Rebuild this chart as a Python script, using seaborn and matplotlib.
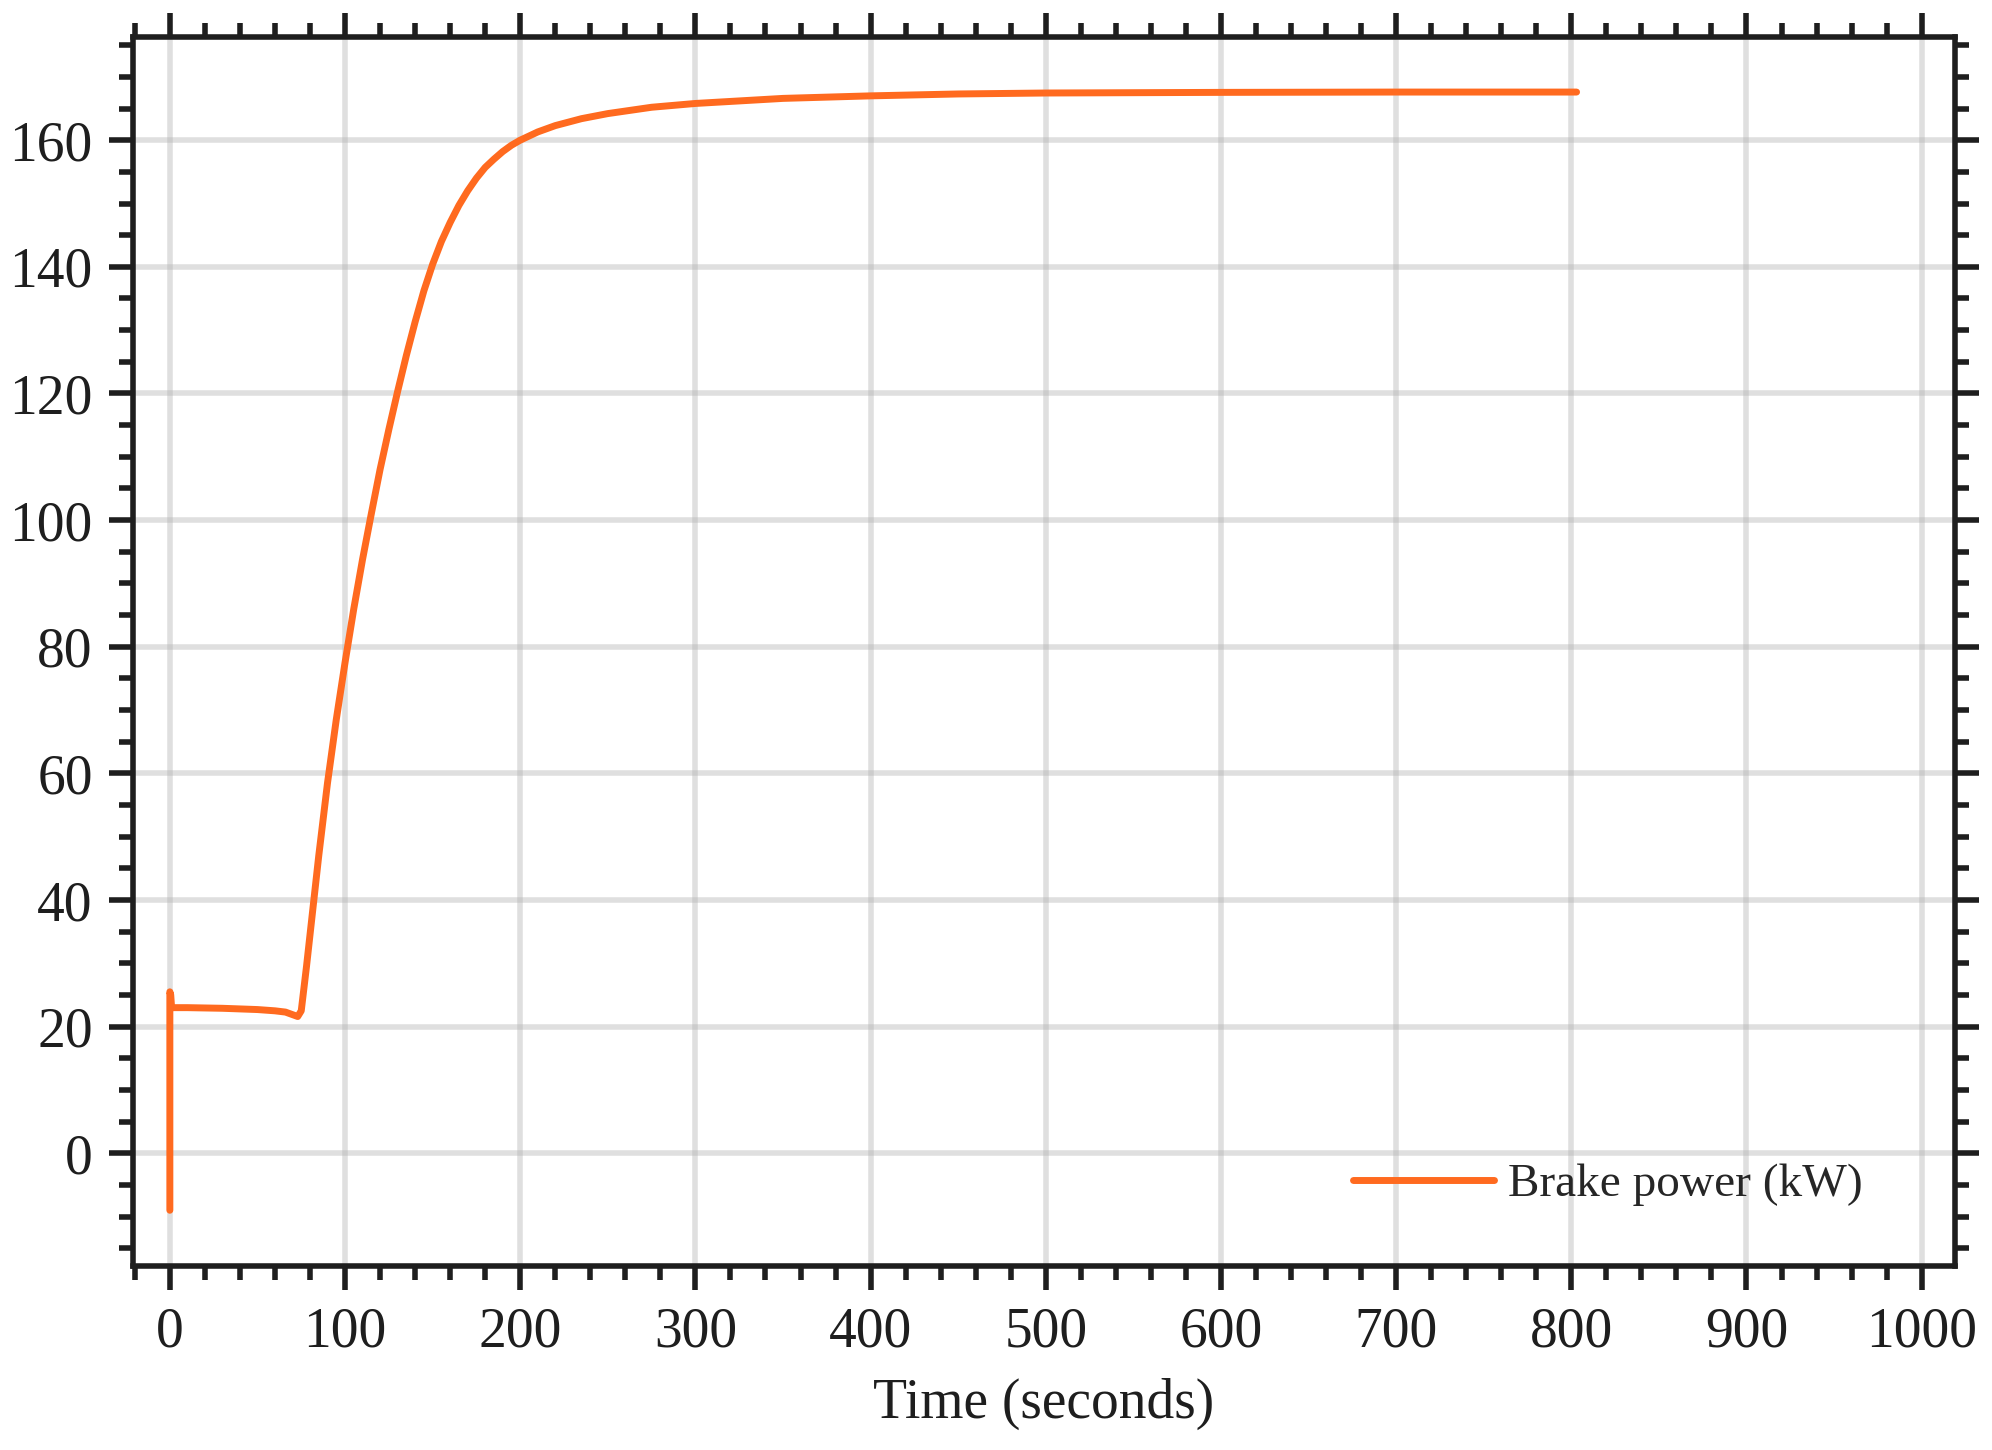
import numpy as np
import pandas as pd
import matplotlib.pyplot as plt
import seaborn as sns
from matplotlib.ticker import MultipleLocator

# values
time_s = [0, 0, 0.5, 1, 10, 30, 50, 60, 66, 70, 73, 75, 78, 80, 85, 90, 95,
          100, 105, 110, 115, 120, 125, 130, 135, 140, 145, 150, 155, 160,
          165, 170, 175, 180, 185, 190, 195, 200, 210, 220, 235, 250, 275,
          300, 350, 400, 450, 500, 600, 700, 803]
brake_kw = [-9, 25.5, 25, 23.0, 23.0, 22.9, 22.7, 22.5, 22.3, 21.9, 21.6, 22.5,
            29.5, 34.5, 47, 58.5, 68.5, 77.5, 86, 93.8, 101, 108, 114.3, 120.3,
            126, 131.3, 136.2, 140.4, 144, 147, 149.7, 152, 154, 155.7, 157,
            158.2, 159.2, 160, 161.3, 162.3, 163.4, 164.2, 165.2, 165.8, 166.6,
            167.0, 167.3, 167.45, 167.55, 167.6, 167.6]
x_ticks = list(range(0, 1001, 100))
y_ticks = list(range(0, 161, 20))

df = pd.DataFrame({'t': time_s, 'p': brake_kw})

sns.set_style('white')
plt.rcParams['font.family'] = ['Liberation Serif', 'DejaVu Serif']

fig, ax = plt.subplots(figsize=(9.96, 7.25), dpi=200)
fig.subplots_adjust(left=0.0668, right=0.9814, top=0.9745, bottom=0.1269)

sns.lineplot(data=df, x='t', y='p', estimator=None, sort=False,
             color='#ff6a1f', linewidth=2.5, label='Brake power (kW)', ax=ax)

ax.set_xlim(-21, 1019)
ax.set_ylim(-17.8, 176.3)
ax.set_xticks(x_ticks)
ax.set_yticks(y_ticks)
ax.xaxis.set_minor_locator(MultipleLocator(20))
ax.yaxis.set_minor_locator(MultipleLocator(5))
ax.grid(True, which='major', color='#b0b0b0', alpha=0.4, linewidth=2)

for s in ax.spines.values():
    s.set_visible(True)
    s.set_color('#1e1e1e')
    s.set_linewidth(2.0)

ax.tick_params(which='both', direction='out', top=True, right=True,
               bottom=True, left=True, color='#1e1e1e', width=2.0,
               labelsize=20, labelcolor='#1e1e1e')
ax.tick_params(which='major', length=8.5, pad=6)
ax.tick_params(which='minor', length=5)

ax.set_xlabel('Time (seconds)', fontsize=20, color='#1e1e1e', labelpad=7)
ax.set_ylabel('')

ax.legend(loc='center right', bbox_to_anchor=(0.96, 0.066), frameon=False,
          fontsize=17, handlelength=3.0, handletextpad=0.3, borderaxespad=0)

plt.savefig('out.png', dpi=200)
